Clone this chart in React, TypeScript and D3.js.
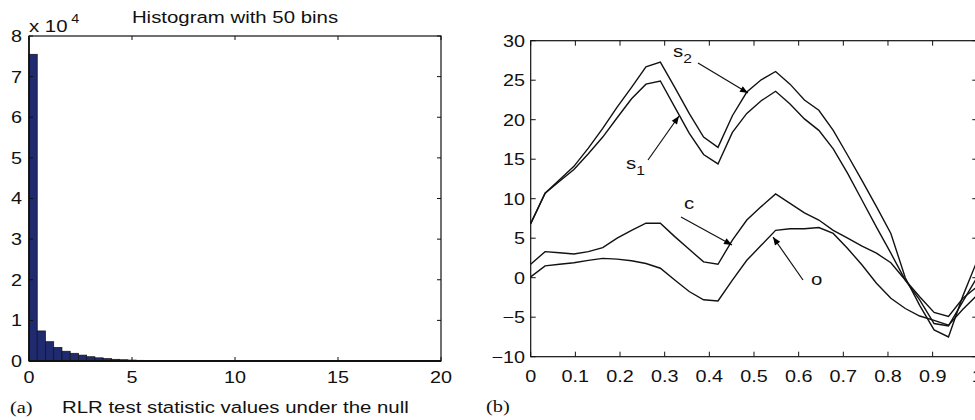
import React from "react";
import * as d3 from "d3";

// ---------- Data ----------
// (a) histogram: 50 bins of width 0.4 over [0, 20]
const histBinWidth = 0.4;
const histCounts = [
  75500, 7400, 4750, 3350, 2400, 1900, 1450, 1050, 780, 580,
  420, 310, 230, 170, 120, 90, 60, 40, 30, 20,
  12, 8, 5, 3, 2, 1, 1, 0, 0, 0,
  0, 0, 0, 0, 0, 0, 0, 0, 0, 0,
  0, 0, 0, 0, 0, 0, 0, 0, 0, 0,
];
const histXTicks = [0, 5, 10, 15, 20];
const histYTicks = [0, 1, 2, 3, 4, 5, 6, 7, 8];

// (b) curves sampled at t = i/31
const s2Values = [
  6.9, 10.7, 12.4, 14.1, 16.4, 18.9, 21.6, 24.1, 26.7, 27.3,
  24.1, 20.8, 17.8, 16.5, 20.5, 23.5, 25.05, 26.1, 24.5, 22.5,
  21.2, 18.65, 15.5, 12.3, 9.0, 5.6, 0.0, -3.5, -6.6, -7.5,
  -2.3, 2.2,
];
const s1Values = [
  6.8, 10.7, 12.2, 13.7, 15.7, 17.8, 20.25, 22.65, 24.5, 24.9,
  21.6, 18.3, 15.6, 14.4, 18.4, 20.8, 22.4, 23.6, 22.0, 20.1,
  18.65, 16.3, 13.2, 9.8, 6.4, 3.1, -0.3, -2.8, -5.8, -6.1,
  -3.0, 0.1,
];
const cValues = [
  1.7, 3.3, 3.15, 3.0, 3.3, 3.8, 5.0, 6.0, 6.9, 6.9,
  5.2, 3.6, 2.0, 1.7, 4.75, 7.3, 9.0, 10.6, 9.4, 8.2,
  7.3, 6.0, 5.0, 4.0, 3.1, 1.9, -0.3, -2.4, -4.4, -4.9,
  -2.6, -1.1,
];
const oValues = [
  0.1, 1.5, 1.7, 1.9, 2.2, 2.45, 2.35, 2.15, 1.8, 1.2,
  -0.3, -1.75, -2.8, -2.95, -0.3, 2.2, 4.1, 6.0, 6.2, 6.2,
  6.35, 5.6, 3.7, 1.6, -0.7, -2.6, -3.9, -4.85, -5.4, -6.0,
  -4.0, -2.2,
];
const curveXTicks = [0, 0.1, 0.2, 0.3, 0.4, 0.5, 0.6, 0.7, 0.8, 0.9, 1];
const curveYTicks = [-10, -5, 0, 5, 10, 15, 20, 25, 30];

const FONT = "'Liberation Sans', Arial, Helvetica, sans-serif";
const SERIF = "'Liberation Serif', 'Times New Roman', serif";
const SX = 1.2; // the reference's glyphs are horizontally stretched

type TProps = {
  x: number;
  y: number;
  size: number;
  anchor?: "start" | "middle" | "end";
  dy?: string;
  family?: string;
  children?: React.ReactNode;
};
function T({ x, y, size, anchor = "start", dy, family, children }: TProps) {
  return (
    <text
      transform={`translate(${x},${y}) scale(${SX},1)`}
      fontSize={size}
      textAnchor={anchor}
      dy={dy}
      fontFamily={family}
      fill="#111"
    >
      {children}
    </text>
  );
}

export default function App() {
  // ---- (a) scales ----
  const hx = d3.scaleLinear().domain([0, 20]).range([29, 441]);
  const hy = d3.scaleLinear().domain([0, 80000]).range([361, 36]);
  const hTick = 4;

  // ---- (b) scales ----
  const bx = d3.scaleLinear().domain([0, 1]).range([530.7, 977.3]);
  const by = d3.scaleLinear().domain([-10, 30]).range([356.7, 40.7]);
  const bTick = 5;
  const n = s2Values.length;
  const line = d3
    .line<number>()
    .x((_, i) => bx(i / (n - 1)))
    .y((d) => by(d));
  const curves = [s2Values, s1Values, cValues, oValues];

  const fs = 16.5;
  const ls = 17;

  return (
    <svg
      width={975}
      height={420}
      style={{ position: "absolute", left: 0, top: 0, background: "#fff" }}
      fontFamily={FONT}
    >
      <defs>
        <marker
          id="arrow"
          viewBox="0 0 10 10"
          refX="10"
          refY="5"
          markerWidth="9"
          markerHeight="8"
          markerUnits="userSpaceOnUse"
          orient="auto"
        >
          <path d="M0,1 L10,5 L0,9 z" fill="#000" />
        </marker>
      </defs>
      <rect x={0} y={0} width={975} height={420} fill="#fff" />

      {/* ================= (a) ================= */}
      <g>
        {histCounts.map((c, i) => {
          const x0 = hx(i * histBinWidth);
          const x1 = hx((i + 1) * histBinWidth);
          const y = hy(c);
          return (
            <rect
              key={i}
              x={x0}
              y={y}
              width={x1 - x0}
              height={hy(0) - y}
              fill="#1f2b6e"
              stroke="#111"
              strokeWidth={0.7}
            />
          );
        })}
        <rect
          x={hx(0)}
          y={hy(80000)}
          width={hx(20) - hx(0)}
          height={hy(0) - hy(80000)}
          fill="none"
          stroke="#111"
          strokeWidth={1.2}
        />
        <line x1={hx(0)} x2={hx(20)} y1={hy(0)} y2={hy(0)} stroke="#111" strokeWidth={2} />
        <line x1={hx(0)} x2={hx(0)} y1={hy(0)} y2={hy(80000)} stroke="#111" strokeWidth={1.6} />
        {histXTicks.map((t) => (
          <g key={"hx" + t}>
            <line x1={hx(t)} x2={hx(t)} y1={hy(0)} y2={hy(0) - hTick} stroke="#111" />
            <line x1={hx(t)} x2={hx(t)} y1={hy(80000)} y2={hy(80000) + hTick} stroke="#111" />
            <T x={hx(t)} y={383} size={fs} anchor="middle">
              {t}
            </T>
          </g>
        ))}
        {histYTicks.map((t) => (
          <g key={"hy" + t}>
            <line x1={hx(0)} x2={hx(0) + hTick} y1={hy(t * 10000)} y2={hy(t * 10000)} stroke="#111" />
            <line x1={hx(20)} x2={hx(20) - hTick} y1={hy(t * 10000)} y2={hy(t * 10000)} stroke="#111" />
            <T x={22} y={hy(t * 10000)} dy="0.36em" size={fs} anchor="end">
              {t}
            </T>
          </g>
        ))}
        <T x={29} y={32} size={ls}>
          x 10
          <tspan fontSize={12} dy={-9} dx={3}>
            4
          </tspan>
        </T>
        <T x={235} y={23} size={ls} anchor="middle">
          Histogram with 50 bins
        </T>
        <T x={10} y={413} size={17} family={SERIF}>
          (a)
        </T>
        <T x={62} y={413} size={ls}>
          RLR test statistic values under the null
        </T>
      </g>

      {/* ================= (b) ================= */}
      <g>
        <rect
          x={bx(0)}
          y={by(30)}
          width={bx(1) - bx(0)}
          height={by(-10) - by(30)}
          fill="none"
          stroke="#111"
          strokeWidth={1.2}
        />
        {curveXTicks.map((t) => (
          <g key={"bx" + t}>
            <line x1={bx(t)} x2={bx(t)} y1={by(-10)} y2={by(-10) - bTick} stroke="#111" />
            <line x1={bx(t)} x2={bx(t)} y1={by(30)} y2={by(30) + bTick} stroke="#111" />
            <T x={bx(t)} y={382} size={fs} anchor="middle">
              {t}
            </T>
          </g>
        ))}
        {curveYTicks.map((t) => (
          <g key={"by" + t}>
            <line x1={bx(0)} x2={bx(0) + bTick} y1={by(t)} y2={by(t)} stroke="#111" />
            <line x1={bx(1)} x2={bx(1) - bTick} y1={by(t)} y2={by(t)} stroke="#111" />
            <T x={525} y={by(t)} dy="0.36em" size={fs} anchor="end">
              {t < 0 ? "\u2212" + Math.abs(t) : t}
            </T>
          </g>
        ))}
        {curves.map((vals, k) => (
          <path key={k} d={line(vals) || ""} fill="none" stroke="#111" strokeWidth={1.4} />
        ))}

        {/* annotations */}
        <T x={673} y={57} size={ls}>
          s<tspan fontSize={13} dy={6}>2</tspan>
        </T>
        <line x1={698} y1={63} x2={748} y2={93} stroke="#111" strokeWidth={1.2} markerEnd="url(#arrow)" />

        <T x={626} y={169} size={ls}>
          s<tspan fontSize={13} dy={6}>1</tspan>
        </T>
        <line x1={648} y1={160} x2={679} y2={116} stroke="#111" strokeWidth={1.2} markerEnd="url(#arrow)" />

        <T x={684} y={209} size={ls}>
          c
        </T>
        <line x1={681} y1={217} x2={732} y2={245} stroke="#111" strokeWidth={1.2} markerEnd="url(#arrow)" />

        <T x={811} y={285} size={ls}>
          o
        </T>
        <line x1={803} y1={280} x2={773} y2={237} stroke="#111" strokeWidth={1.2} markerEnd="url(#arrow)" />

        <T x={486} y={412} size={17} family={SERIF}>
          (b)
        </T>
      </g>
    </svg>
  );
}
